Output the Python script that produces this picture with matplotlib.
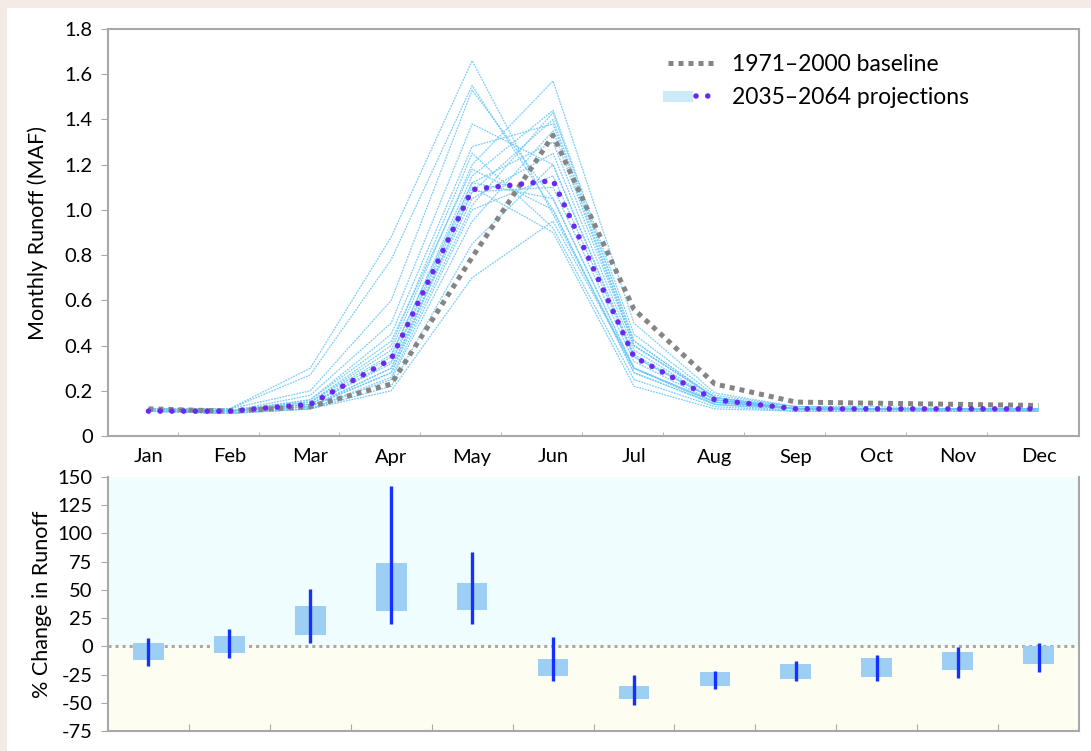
import matplotlib
matplotlib.use("Agg")
import matplotlib.pyplot as plt
from matplotlib.patches import Rectangle
from matplotlib.lines import Line2D
from matplotlib.legend_handler import HandlerTuple

plt.rcParams["font.family"] = ["Lato", "DejaVu Sans"]

months = ["Jan", "Feb", "Mar", "Apr", "May", "Jun",
          "Jul", "Aug", "Sep", "Oct", "Nov", "Dec"]

# monthly runoff (MAF)
baseline = [0.12, 0.11, 0.13, 0.23, 0.79, 1.33, 0.56, 0.23, 0.15, 0.145, 0.14, 0.135]
proj_mean = [0.11, 0.11, 0.14, 0.34, 1.09, 1.13, 0.35, 0.16, 0.12, 0.12, 0.12, 0.12]

# individual model projections 2035-2064
projections = [
    [0.12, 0.12, 0.30, 0.88, 1.66, 0.98, 0.30, 0.15, 0.12, 0.12, 0.12, 0.12],
    [0.12, 0.12, 0.27, 0.78, 1.55, 1.00, 0.28, 0.14, 0.12, 0.12, 0.12, 0.12],
    [0.12, 0.12, 0.20, 0.60, 1.53, 1.05, 0.30, 0.15, 0.12, 0.12, 0.12, 0.11],
    [0.12, 0.11, 0.18, 0.50, 1.38, 1.20, 0.35, 0.16, 0.12, 0.12, 0.12, 0.12],
    [0.12, 0.11, 0.16, 0.45, 1.28, 1.38, 0.40, 0.17, 0.13, 0.12, 0.12, 0.12],
    [0.11, 0.11, 0.15, 0.40, 1.25, 0.92, 0.25, 0.13, 0.11, 0.11, 0.11, 0.11],
    [0.12, 0.11, 0.15, 0.38, 1.20, 1.57, 0.50, 0.19, 0.13, 0.13, 0.12, 0.12],
    [0.12, 0.11, 0.14, 0.35, 1.15, 1.44, 0.45, 0.18, 0.13, 0.12, 0.12, 0.12],
    [0.11, 0.11, 0.14, 0.33, 1.12, 1.30, 0.40, 0.17, 0.12, 0.12, 0.12, 0.12],
    [0.11, 0.11, 0.13, 0.30, 1.08, 1.10, 0.33, 0.15, 0.12, 0.12, 0.12, 0.12],
    [0.11, 0.11, 0.13, 0.30, 1.05, 1.25, 0.38, 0.16, 0.12, 0.12, 0.11, 0.11],
    [0.11, 0.10, 0.13, 0.28, 1.02, 1.43, 0.42, 0.17, 0.12, 0.12, 0.12, 0.12],
    [0.11, 0.10, 0.12, 0.26, 1.00, 1.15, 0.35, 0.16, 0.12, 0.12, 0.12, 0.12],
    [0.11, 0.10, 0.12, 0.25, 0.95, 1.35, 0.40, 0.17, 0.12, 0.12, 0.12, 0.12],
    [0.11, 0.10, 0.12, 0.22, 0.85, 1.20, 0.36, 0.16, 0.12, 0.12, 0.11, 0.11],
    [0.11, 0.10, 0.12, 0.20, 0.70, 0.95, 0.30, 0.14, 0.11, 0.11, 0.11, 0.11],
    [0.11, 0.11, 0.14, 0.32, 1.10, 0.90, 0.22, 0.12, 0.11, 0.11, 0.11, 0.11],
    [0.12, 0.11, 0.16, 0.42, 1.18, 1.00, 0.28, 0.14, 0.12, 0.12, 0.12, 0.12],
    [0.11, 0.11, 0.13, 0.28, 1.08, 1.40, 0.42, 0.17, 0.12, 0.12, 0.12, 0.12],
    [0.12, 0.11, 0.15, 0.36, 1.12, 1.05, 0.30, 0.15, 0.12, 0.12, 0.12, 0.12],
]

# % change in runoff: box (25th-75th) and range (min-max)
box_low = [-12, -6, 10, 31, 32.5, -26.5, -47, -35, -29, -27, -21, -15.5]
box_high = [3, 9, 36, 74, 56, -11, -35, -23, -15.5, -10, -5, 0]
range_low = [-17, -10, 3, 20, 20, -31, -52, -38, -31, -31, -28, -22.5]
range_high = [7, 15, 51, 142, 84, 8, -25, -21.5, -13, -7.5, -1, 3]

GRAY = "#a8a8a8"
x = list(range(12))

fig = plt.figure(figsize=(10.91, 7.51), dpi=100)
fig.patch.set_facecolor("#f3ece6")
fig.patches.append(Rectangle((7 / 1091, 0), 1, 1 - 8 / 751, transform=fig.transFigure,
                             facecolor="white", edgecolor="none", zorder=-10))

# ---- top panel ----
ax1 = fig.add_axes([108 / 1091, 1 - 436 / 751, 971 / 1091, 407 / 751])
for p in projections:
    ax1.plot(x, p, color="#6cc8f8", lw=0.9, linestyle=(0, (1.5, 0.8)), alpha=0.9, zorder=2)
ax1.plot(x, baseline, color="#858585", lw=3.6, linestyle=(0, (1, 1)), zorder=3)
ax1.plot(x, proj_mean, color="#6a28f0", lw=4, linestyle=(0, (0.01, 2.1)),
         dash_capstyle="round", zorder=4)

ax1.set_xlim(-0.5, 11.5)
ax1.set_ylim(0, 1.8)
ax1.set_yticks([0, 0.2, 0.4, 0.6, 0.8, 1.0, 1.2, 1.4, 1.6, 1.8])
ax1.set_yticklabels(["0", "0.2", "0.4", "0.6", "0.8", "1.0", "1.2", "1.4", "1.6", "1.8"],
                    fontsize=14.5)
ax1.set_xticks(x)
ax1.set_xticklabels(months, fontsize=14.5)
ax1.tick_params(axis="x", length=0, pad=9)
ax1.set_xticks([k + 0.36 for k in range(11)], minor=True)
ax1.tick_params(axis="x", which="minor", direction="in", length=3, color=GRAY)
ax1.tick_params(axis="y", direction="out", length=5, color=GRAY, pad=6)
for s in ax1.spines.values():
    s.set_color(GRAY)
    s.set_linewidth(1.5)
ax1.set_ylabel("Monthly Runoff (MAF)", fontsize=15.5, labelpad=12)

h_base = Line2D([], [], color="#858585", lw=3.6, linestyle=(0, (1, 1)))
h_band = Line2D([], [], color="#cdeafb", lw=8)
h_mean = Line2D([], [], color="#6a28f0", lw=4, linestyle=(0, (0.01, 2.1)),
                dash_capstyle="round")
ax1.legend([h_base, (h_band, h_mean)], ["1971\u20132000 baseline", "2035\u20132064 projections"],
           handler_map={tuple: HandlerTuple(ndivide=None)},
           loc="upper left", bbox_to_anchor=(0.555, 0.99), frameon=False,
           fontsize=16.5, handlelength=2.1, labelspacing=0.55, handletextpad=0.7)

# ---- bottom panel ----
ax2 = fig.add_axes([108 / 1091, 1 - 731 / 751, 971 / 1091, 254 / 751])
ax2.set_xlim(-0.5, 11.5)
ax2.set_ylim(-75, 150)
ax2.axhspan(0, 150, color="#effdff", zorder=0)
ax2.axhspan(-75, 0, color="#fdfdf1", zorder=0)
ax2.axhline(0, color="#a8a8a8", lw=2.2, linestyle=(0, (1, 1.3)), zorder=1)

heights = [h - l for h, l in zip(box_high, box_low)]
ax2.bar(x, heights, bottom=box_low, width=0.38, color="#9dcff5", zorder=2)
ax2.vlines(x, range_low, range_high, color="#1530ff", lw=2.4, zorder=3)

ax2.set_yticks(list(range(-75, 151, 25)))
ax2.set_yticklabels([str(v) for v in range(-75, 151, 25)], fontsize=14.5)
ax2.set_xticks([k + 0.5 for k in range(11)])
ax2.set_xticklabels([])
ax2.tick_params(axis="x", direction="in", length=5, color=GRAY)
ax2.tick_params(axis="y", direction="out", length=5, color=GRAY, pad=6)
for s in ax2.spines.values():
    s.set_color(GRAY)
    s.set_linewidth(1.5)
ax2.spines["top"].set_visible(False)
ax2.set_ylabel("% Change in Runoff", fontsize=15.5, labelpad=4)

fig.savefig("out.png", dpi=100, facecolor=fig.get_facecolor())
